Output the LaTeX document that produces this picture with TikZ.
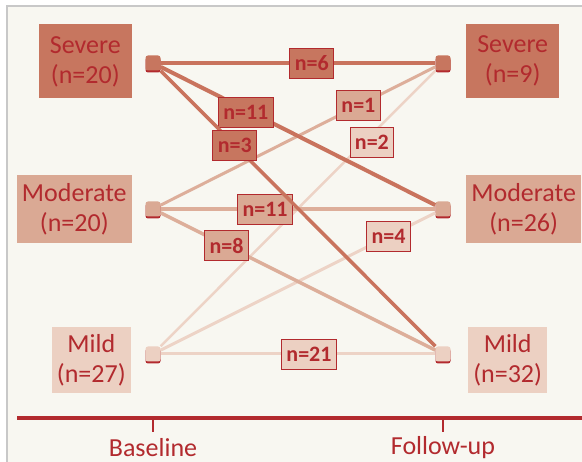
\documentclass[tikz,border=0pt]{standalone}
\usepackage{fontspec}
\setmainfont{Carlito}
\usetikzlibrary{shadows}

\definecolor{txtred}{HTML}{B22A2E}
\definecolor{sevfill}{HTML}{C7765F}
\definecolor{modfill}{HTML}{DAA994}
\definecolor{mildfill}{HTML}{ECD0C2}
\definecolor{sevline}{HTML}{C9735D}
\definecolor{modline}{HTML}{DDAE9A}
\definecolor{mildline}{HTML}{EDD3C6}
\definecolor{cream}{HTML}{F8F7F1}
\definecolor{framegray}{HTML}{C8C8C8}

\begin{document}
\begin{tikzpicture}[
  x=1pt, y=-1pt,
  lvl/.style={inner xsep=0pt, inner ysep=0pt, align=center, text=txtred,
              font=\fontsize{26}{30}\selectfont},
  sevbox/.style={lvl, fill=sevfill, minimum width=93pt, minimum height=74pt},
  modbox/.style={lvl, fill=modfill, minimum width=115pt, minimum height=68pt},
  mildbox/.style={lvl, fill=mildfill, minimum width=79pt, minimum height=66pt},
  dot/.style={rounded corners=2.5pt, minimum size=15pt, inner sep=0pt,
              drop shadow={shadow xshift=0pt, shadow yshift=-2pt,
                           fill=txtred, opacity=1}},
  cnt/.style={draw=txtred, line width=0.9pt, text=txtred,
              font=\fontsize{22}{26}\selectfont\bfseries,
              inner xsep=5pt, inner ysep=0pt, minimum height=30pt},
  sevedge/.style={sevline, line width=4pt},
  modedge/.style={modline, line width=3.5pt},
  mildedge/.style={mildline, line width=3pt},
  axis/.style={txtred, line width=3.5pt},
  tick/.style={txtred, line width=2pt},
  axlbl/.style={text=txtred, font=\fontsize{26}{30}\selectfont},
]
\useasboundingbox (0,0) rectangle (582,462);
\clip (0,0) rectangle (582,462);
\fill[white] (0,0) rectangle (582,462);
\draw[framegray, fill=cream, line width=1.5pt] (7,6) rectangle (600,480);

% ---- Transition points ----------------------------------------------------
\node[dot, fill=sevfill]  (bS) at (153,63)  {};
\node[dot, fill=modfill]  (bM) at (153,209) {};
\node[dot, fill=mildfill] (bL) at (153,354) {};
\node[dot, fill=sevfill]  (fS) at (443,63)  {};
\node[dot, fill=modfill]  (fM) at (443,209) {};
\node[dot, fill=mildfill] (fL) at (443,354) {};

% ---- Level boxes ----------------------------------------------------------
\node[sevbox, anchor=east]  (bSlab) at (132,61.5) {Severe\\(n=20)};
\node[modbox, anchor=east]  (bMlab) at (132,209)  {Moderate\\(n=20)};
\node[mildbox, anchor=east] (bLlab) at (131,360)  {Mild\\(n=27)};
\node[sevbox, anchor=west]  (fSlab) at (466,61)   {Severe\\(n=9)};
\node[modbox, anchor=west]  (fMlab) at (466,209)  {Moderate\\(n=26)};
\node[mildbox, anchor=west] (fLlab) at (468,360)  {Mild\\(n=32)};

% ---- From mild ------------------------------------------------------------
\draw[mildedge] (bL) -- node[cnt, fill=mildfill, pos=.54] (cLL) {n=21} (fL);
\draw[mildedge] (bL) -- node[cnt, fill=mildfill, pos=.83] (cLM) {n=4} (fM);
\draw[mildedge, line width=2.5pt] (bL) -- node[cnt, fill=mildfill, pos=.74, xshift=8pt] (cLS) {n=2} (fS);

% ---- From moderate --------------------------------------------------------
\draw[modedge] (bM) -- node[cnt, fill=modfill, pos=.38] (cMM) {n=11} (fM);
\draw[modedge] (bM) -- node[cnt, fill=modfill, pos=.24] (cML) {n=8} (fL);
\draw[modedge, line width=3pt] (bM) -- node[cnt, fill=modfill, pos=.72] (cMS) {n=1} (fS);

% ---- From severe ----------------------------------------------------------
\draw[sevedge] (bS) -- node[cnt, fill=sevfill, pos=.55] (cSS) {n=6} (fS);
\draw[sevedge] (bS) -- node[cnt, fill=sevfill, pos=.31, yshift=-3pt] (cSM) {n=11} (fM);
\draw[sevedge, line width=3.5pt] (bS) -- node[cnt, fill=sevfill, pos=.27] (cSL) {n=3} (fL);

% ---- Time axis ------------------------------------------------------------
\coordinate (a0) at (17,418);
\coordinate (a1) at (582,418);
\draw[axis] (a0) -- (a1);
\draw[tick] (bL |- a0) -- ++(0,14);
\draw[tick] (fL |- a0) -- ++(0,14);
\node[axlbl] (tB) at (153,448) {Baseline};
\node[axlbl] (tF) at (443,448) {Follow-up};

\end{tikzpicture}
\end{document}
